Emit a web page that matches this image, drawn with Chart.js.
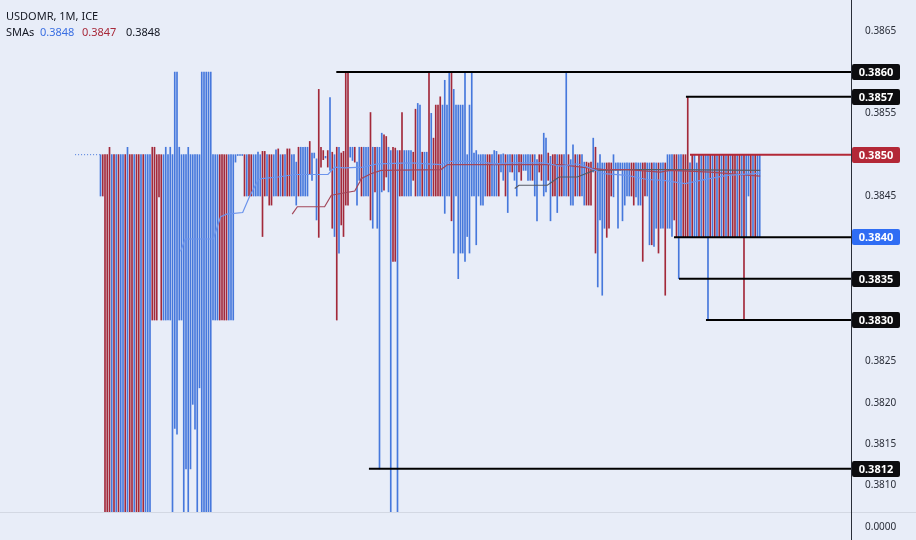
<!DOCTYPE html>
<html>
<head>
<meta charset="utf-8">
<title>USDOMR, 1M, ICE</title>
<script src="https://cdn.jsdelivr.net/npm/chart.js@4.4.1/dist/chart.umd.min.js"></script>
<style>
  html, body { margin: 0; padding: 0; background: #e8edf8; }
  #wrap { position: relative; width: 916px; height: 540px; overflow: hidden; }
  #chart { position: absolute; left: 0; top: 0; }
  .hdr { position: absolute; font: 11px "Noto Sans", sans-serif; color: #131722; white-space: nowrap; line-height: 14px; }
</style>
</head>
<body>
<div id="wrap">
  <canvas id="chart" width="916" height="540"></canvas>
  <div class="hdr" style="left:6px; top:9px;">USDOMR, 1M, ICE</div>
  <div class="hdr" style="left:6px; top:25px;">SMAs</div>
  <div class="hdr" style="left:40px; top:25px; color:#3a6fe2;">0.3848</div>
  <div class="hdr" style="left:82px; top:25px; color:#a8293a;">0.3847</div>
  <div class="hdr" style="left:126px; top:25px;">0.3848</div>
</div>
<script>
/* bars: one entry per minute, high / low / direction (1 = up, blue) */
const barHigh = [
  0.3850, 0.3850, 0.3850, 0.3850, 0.38509, 0.3850, 0.3850, 0.3850, 0.3850, 0.3850,
  0.3850, 0.3850, 0.38509, 0.3850, 0.3850, 0.3850, 0.3850, 0.3850, 0.3850, 0.3850,
  0.3850, 0.3850, 0.3850, 0.38509, 0.38509, 0.3850, 0.3850, 0.3850, 0.3850, 0.38509,
  0.3850, 0.38509, 0.3850, 0.3860, 0.3860, 0.38509, 0.3850, 0.3850, 0.3850, 0.38509,
  0.3850, 0.3850, 0.3850, 0.3850, 0.3850, 0.3860, 0.3860, 0.3860, 0.3860, 0.3860,
  0.3850, 0.3850, 0.3850, 0.3850, 0.3850, 0.3850, 0.3850, 0.3850, 0.3850, 0.3850,
  0.3850, 0.3850, 0.3850, 0.3850, 0.3850, 0.3850, 0.3850, 0.3850, 0.3850, 0.3850,
  0.38503, 0.3850, 0.38504, 0.38504, 0.3850, 0.3850, 0.3850, 0.3850, 0.38506, 0.38507,
  0.3850, 0.3850, 0.3850, 0.38507, 0.38507, 0.3850, 0.3850, 0.38491, 0.38509, 0.38509,
  0.38509, 0.38509, 0.38509, 0.38516, 0.38502, 0.38502, 0.38495, 0.38579, 0.38509, 0.38505,
  0.38498, 0.38505, 0.38569, 0.38503, 0.3850, 0.38509, 0.38509, 0.38502, 0.38504, 0.3860,
  0.3860, 0.38509, 0.38509, 0.38509, 0.38491, 0.38509, 0.38509, 0.38509, 0.38509, 0.38509,
  0.38551, 0.38509, 0.38509, 0.38509, 0.38509, 0.38526, 0.38524, 0.38522, 0.38509, 0.38505,
  0.38509, 0.38508, 0.38505, 0.38505, 0.38551, 0.38505, 0.38505, 0.38505, 0.38505, 0.38503,
  0.38555, 0.38562, 0.3856, 0.38503, 0.38503, 0.38503, 0.3860, 0.3855, 0.3852, 0.3856,
  0.3856, 0.3857, 0.3856, 0.3859, 0.3856, 0.3860, 0.3860, 0.38579, 0.3856, 0.3856,
  0.3856, 0.3856, 0.3860, 0.3850, 0.3856, 0.3860, 0.38502, 0.38505, 0.3850, 0.3850,
  0.3850, 0.3850, 0.3850, 0.3850, 0.3850, 0.38505, 0.38504, 0.3850, 0.3850, 0.38501,
  0.3850, 0.3850, 0.3850, 0.3850, 0.3850, 0.3850, 0.3850, 0.3850, 0.3850, 0.3850,
  0.3850, 0.3850, 0.3850, 0.3850, 0.38494, 0.3850, 0.3850, 0.38526, 0.3852, 0.38502,
  0.38498, 0.3850, 0.3850, 0.3850, 0.3850, 0.3850, 0.3850, 0.3860, 0.3850, 0.38494,
  0.38512, 0.3850, 0.3850, 0.3850, 0.3850, 0.38491, 0.38491, 0.3849, 0.38491, 0.3852,
  0.38509, 0.3849, 0.3850, 0.3849, 0.3849, 0.3849, 0.3849, 0.3849, 0.3850, 0.3849,
  0.3849, 0.3849, 0.3849, 0.3849, 0.3849, 0.3849, 0.3849, 0.3849, 0.3849, 0.3849,
  0.3849, 0.3849, 0.3849, 0.3849, 0.3849, 0.3849, 0.3849, 0.3849, 0.3849, 0.3849,
  0.3849, 0.3849, 0.3850, 0.3850, 0.3850, 0.3850, 0.3850, 0.3850, 0.3850, 0.3850,
  0.3850, 0.3857, 0.3849, 0.3850, 0.3850, 0.3849, 0.3850, 0.3850, 0.3850, 0.3850,
  0.3850, 0.3850, 0.3850, 0.3850, 0.3850, 0.3850, 0.3850, 0.3850, 0.3850, 0.3850,
  0.3850, 0.3850, 0.3850, 0.3850, 0.3850, 0.3850, 0.3850, 0.3850, 0.3850, 0.3850,
  0.3850, 0.3850, 0.3850, 0.3850
];

const barLow = [
  0.3845, 0.3845, 0.38, 0.38, 0.38, 0.38, 0.38, 0.38, 0.38, 0.38,
  0.38, 0.38, 0.38, 0.38, 0.38, 0.38, 0.38, 0.38, 0.38, 0.38,
  0.38, 0.38, 0.38, 0.383, 0.383, 0.383, 0.38449, 0.383, 0.383, 0.383,
  0.383, 0.383, 0.38, 0.38169, 0.38162, 0.383, 0.383, 0.38, 0.3812, 0.38,
  0.3812, 0.38198, 0.38168, 0.38, 0.38218, 0.38, 0.38, 0.38, 0.38, 0.38,
  0.383, 0.383, 0.383, 0.383, 0.383, 0.383, 0.383, 0.383, 0.383, 0.383,
  0.38491, 0.38499, 0.38499, 0.38499, 0.3845, 0.3845, 0.3845, 0.3845, 0.3845, 0.3845,
  0.3845, 0.3845, 0.38401, 0.3845, 0.3845, 0.38439, 0.38439, 0.3845, 0.3845, 0.3845,
  0.3845, 0.3845, 0.3845, 0.3845, 0.3845, 0.3845, 0.3845, 0.38439, 0.3845, 0.3845,
  0.3845, 0.3845, 0.3845, 0.38477, 0.38469, 0.38496, 0.38421, 0.3840, 0.38485, 0.38494,
  0.38496, 0.38485, 0.38481, 0.38411, 0.38401, 0.383, 0.38381, 0.38415, 0.38401, 0.38439,
  0.38439, 0.38497, 0.38493, 0.38491, 0.38439, 0.38469, 0.3845, 0.3845, 0.3845, 0.3845,
  0.38421, 0.38411, 0.38455, 0.38411, 0.3812, 0.38455, 0.38457, 0.38473, 0.38455, 0.38,
  0.38371, 0.38371, 0.38, 0.3845, 0.3845, 0.3845, 0.3845, 0.3845, 0.3845, 0.38469,
  0.3845, 0.3845, 0.3845, 0.3845, 0.3845, 0.3845, 0.3845, 0.3845, 0.3845, 0.3845,
  0.3845, 0.3845, 0.3845, 0.38429, 0.3845, 0.3845, 0.3842, 0.38381, 0.3845, 0.3835,
  0.38381, 0.38381, 0.38371, 0.38401, 0.38381, 0.3845, 0.3845, 0.38391, 0.3845, 0.38439,
  0.38439, 0.3845, 0.3845, 0.3845, 0.3845, 0.3845, 0.3845, 0.3845, 0.38479, 0.38469,
  0.3845, 0.3843, 0.38479, 0.38479, 0.38469, 0.3845, 0.38479, 0.38469, 0.38481, 0.38481,
  0.38469, 0.38469, 0.38469, 0.3845, 0.3842, 0.38479, 0.38469, 0.3845, 0.38455, 0.38469,
  0.3842, 0.3845, 0.3845, 0.3843, 0.3845, 0.3845, 0.3845, 0.3845, 0.3845, 0.38439,
  0.38439, 0.3845, 0.3845, 0.3845, 0.3845, 0.38439, 0.38439, 0.38439, 0.38439, 0.38479,
  0.38381, 0.3834, 0.38421, 0.3833, 0.38411, 0.384, 0.38411, 0.3845, 0.38449, 0.38481,
  0.38411, 0.38481, 0.3842, 0.38439, 0.3845, 0.3845, 0.3845, 0.38439, 0.38449, 0.38439,
  0.38439, 0.38371, 0.3845, 0.3845, 0.38391, 0.38391, 0.38389, 0.38411, 0.38381, 0.38411,
  0.38411, 0.3833, 0.38411, 0.38411, 0.38401, 0.38421, 0.384, 0.3835, 0.384, 0.384,
  0.384, 0.384, 0.384, 0.384, 0.384, 0.384, 0.384, 0.384, 0.384, 0.384,
  0.383, 0.384, 0.384, 0.384, 0.384, 0.384, 0.384, 0.384, 0.384, 0.384,
  0.384, 0.384, 0.384, 0.384, 0.384, 0.384, 0.383, 0.384, 0.3845, 0.384,
  0.384, 0.384, 0.384, 0.384
];

const barUp = [
  1, 0, 0, 0, 0, 1, 0, 1, 0, 1,
  1, 0, 1, 0, 0, 1, 0, 0, 1, 0,
  1, 1, 1, 0, 0, 0, 0, 0, 1, 1,
  1, 1, 1, 1, 1, 1, 1, 1, 1, 1,
  1, 1, 1, 1, 1, 1, 1, 1, 1, 1,
  1, 1, 1, 0, 0, 0, 0, 1, 1, 1,
  1, 1, 1, 1, 0, 1, 0, 0, 1, 1,
  1, 1, 0, 0, 1, 0, 0, 1, 1, 0,
  1, 0, 1, 0, 0, 1, 1, 1, 0, 1,
  1, 1, 1, 0, 1, 1, 1, 0, 0, 0,
  1, 0, 1, 0, 1, 0, 1, 0, 0, 0,
  0, 1, 1, 0, 1, 1, 0, 1, 1, 1,
  0, 1, 0, 1, 1, 1, 0, 0, 1, 1,
  0, 0, 1, 0, 0, 1, 1, 1, 1, 0,
  0, 1, 1, 0, 1, 1, 0, 1, 0, 0,
  0, 0, 1, 1, 1, 1, 0, 1, 1, 1,
  1, 1, 1, 1, 1, 1, 1, 1, 1, 1,
  1, 1, 0, 0, 1, 1, 1, 0, 1, 1,
  0, 1, 1, 0, 1, 1, 0, 0, 1, 1,
  1, 1, 0, 1, 1, 0, 0, 1, 1, 0,
  1, 0, 0, 1, 0, 0, 1, 1, 0, 1,
  1, 0, 1, 0, 1, 1, 0, 0, 0, 1,
  0, 1, 1, 1, 1, 0, 0, 0, 1, 1,
  1, 1, 1, 1, 1, 1, 0, 0, 1, 1,
  1, 0, 0, 1, 1, 0, 1, 1, 0, 1,
  1, 0, 1, 1, 1, 0, 0, 1, 1, 0,
  0, 0, 1, 0, 1, 1, 0, 1, 0, 1,
  1, 0, 1, 0, 1, 0, 1, 0, 1, 0,
  1, 0, 0, 1, 0, 1, 0, 1, 1, 0,
  1, 0, 1, 1
];

/* moving averages, vertices (bar index, price) */
const smaBlueX = [35.6, 37.6, 50.1, 53.4, 56.1, 63.2, 66.2, 70, 71.5, 78.9, 86.3, 101.1, 104.1, 108.5, 116.7, 123.2, 138, 151.3, 154.3, 167.6, 175, 182.3, 197.1, 204.5, 211.9, 216.4, 223.8, 234.1, 242.9, 250.3, 259.9, 266.6, 278.4, 290.3, 293.2];
const smaBlueY = [0.38383, 0.38398, 0.38398, 0.38425, 0.38428, 0.38430, 0.38449, 0.38469, 0.38471, 0.38473, 0.38476, 0.38476, 0.38485, 0.38484, 0.38485, 0.38489, 0.38490, 0.38488, 0.38492, 0.38492, 0.38489, 0.38490, 0.38490, 0.38486, 0.38489, 0.38485, 0.38477, 0.38475, 0.38470, 0.38469, 0.38465, 0.38469, 0.38475, 0.38477, 0.38478];
const smaRedX = [85.2, 87.5, 99.6, 102.6, 113, 115.2, 115.8, 120.2, 124.7, 151.3, 154.3, 175, 204.5, 216.4, 223.8, 234.1, 248.8, 253.2, 271, 293.2];
const smaRedY = [0.38428, 0.38437, 0.38437, 0.38451, 0.38456, 0.38467, 0.38471, 0.38477, 0.38481, 0.38482, 0.38488, 0.38488, 0.38488, 0.38484, 0.38482, 0.38482, 0.38479, 0.38481, 0.38479, 0.38474];
const smaGrayX = [184.1, 186, 198.6, 203.8, 211.9, 219.3, 234.1, 251.8, 293.2];
const smaGrayY = [0.38459, 0.38463, 0.38463, 0.38473, 0.38473, 0.38481, 0.38482, 0.38482, 0.38481];

/* dotted previous-close stub before the first bar */
const leadX = [-11.3, -0.3];
const leadY = [0.3850, 0.3850];

/* horizontal levels: price, first bar index, tag colour */
const levels = [0.3860, 0.3857, 0.3850, 0.3840, 0.3835, 0.3830, 0.3812];
const levelStart = [104.8, 260.2, 262, 254.9, 257.1, 269.1, 119.3];
const levelColor = ['#0c0c0f', '#0c0c0f', '#b32837', '#2f6df4', '#0c0c0f', '#0c0c0f', '#0c0c0f'];

/* price axis labels that are not hidden under a tag */
const tickValues = [0.3810, 0.3815, 0.3820, 0.3825, 0.3845, 0.3855, 0.3865];

const X_MIN = -44.67;
const X_MAX = 333.56;
const Y_MIN = 0.380678;
const Y_MAX = 0.386871;

const BLUE = '#4678dc';
const RED = '#a3293a';
const FONT = '"Noto Sans", sans-serif';

function points(xs, ys) {
  return xs.map(function (x, k) { return { x: x, y: ys[k] }; });
}

const bars = barHigh.map(function (hi, i) {
  return { x: i, y: [barLow[i], hi] };
});

const levelSets = levels.map(function (v, k) {
  return {
    type: 'line',
    data: [{ x: levelStart[k], y: v }, { x: X_MAX, y: v }],
    borderColor: k === 2 ? levelColor[k] : '#000000',
    borderWidth: 2,
    pointRadius: 0,
    order: 0
  };
});

function smaSet(xs, ys, color) {
  return {
    type: 'line',
    data: points(xs, ys),
    borderColor: color,
    borderWidth: 1.2,
    pointRadius: 0,
    tension: 0,
    order: 1
  };
}

const paneExtras = {
  id: 'paneExtras',
  beforeDraw: function (chart) {
    const ctx = chart.ctx;
    ctx.save();
    ctx.fillStyle = '#e8edf8';
    ctx.fillRect(0, 0, chart.width, chart.height);
    ctx.restore();
  },
  afterDraw: function (chart) {
    const ctx = chart.ctx;
    const area = chart.chartArea;
    const yScale = chart.scales.y;
    ctx.save();

    // lower (empty) pane
    ctx.strokeStyle = '#d3d8e3';
    ctx.lineWidth = 1;
    ctx.beginPath();
    ctx.moveTo(0, area.bottom + 0.5);
    ctx.lineTo(chart.width, area.bottom + 0.5);
    ctx.stroke();

    ctx.strokeStyle = '#2a2e39';
    ctx.beginPath();
    ctx.moveTo(area.right + 0.5, 0);
    ctx.lineTo(area.right + 0.5, chart.height);
    ctx.stroke();

    ctx.fillStyle = '#2a2e39';
    ctx.font = '10px ' + FONT;
    ctx.textBaseline = 'middle';
    ctx.textAlign = 'left';
    ctx.fillText('0.0000', area.right + 14, 527);

    // price tags
    levels.forEach(function (v, k) {
      const y = Math.round(yScale.getPixelForValue(v));
      ctx.fillStyle = levelColor[k];
      ctx.beginPath();
      ctx.roundRect(area.right + 1, y - 8, 48, 16, 2);
      ctx.fill();
      ctx.fillStyle = '#ffffff';
      ctx.font = 'bold 11px ' + FONT;
      ctx.textAlign = 'center';
      ctx.fillText(v.toFixed(4), area.right + 25, y + 0.5);
    });
    ctx.restore();
  }
};

new Chart(document.getElementById('chart'), {
  type: 'bar',
  data: {
    datasets: levelSets.concat([
      smaSet(smaBlueX, smaBlueY, '#6c94ec'),
      smaSet(smaRedX, smaRedY, '#a3475a'),
      smaSet(smaGrayX, smaGrayY, '#575b66'),
      {
        type: 'line',
        data: points(leadX, leadY),
        borderColor: BLUE,
        borderWidth: 1,
        borderDash: [1, 2],
        pointRadius: 0,
        order: 1
      },
      {
        type: 'bar',
        data: bars,
        backgroundColor: barUp.map(function (u) { return u ? BLUE : RED; }),
        borderWidth: 0,
        barThickness: 1,
        minBarLength: 1,
        order: 2
      }
    ])
  },
  options: {
    responsive: false,
    devicePixelRatio: 1,
    animation: false,
    events: [],
    layout: { padding: { left: 0, right: 0, top: 0, bottom: 28 } },
    plugins: { legend: { display: false }, tooltip: { enabled: false } },
    scales: {
      x: {
        type: 'linear',
        min: X_MIN,
        max: X_MAX,
        offset: false,
        display: false
      },
      y: {
        type: 'linear',
        position: 'right',
        min: Y_MIN,
        max: Y_MAX,
        grid: { display: false, drawTicks: false },
        border: { display: true, color: '#2a2e39' },
        afterBuildTicks: function (scale) {
          scale.ticks = tickValues.map(function (v) { return { value: v }; });
        },
        afterFit: function (scale) {
          scale.width = 65;
          scale.paddingTop = 0;
          scale.paddingBottom = 0;
        },
        ticks: {
          autoSkip: false,
          padding: 14,
          color: '#2a2e39',
          font: { family: FONT, size: 10 },
          callback: function (v) { return Number(v).toFixed(4); }
        }
      }
    }
  },
  plugins: [paneExtras]
});
</script>
</body>
</html>
